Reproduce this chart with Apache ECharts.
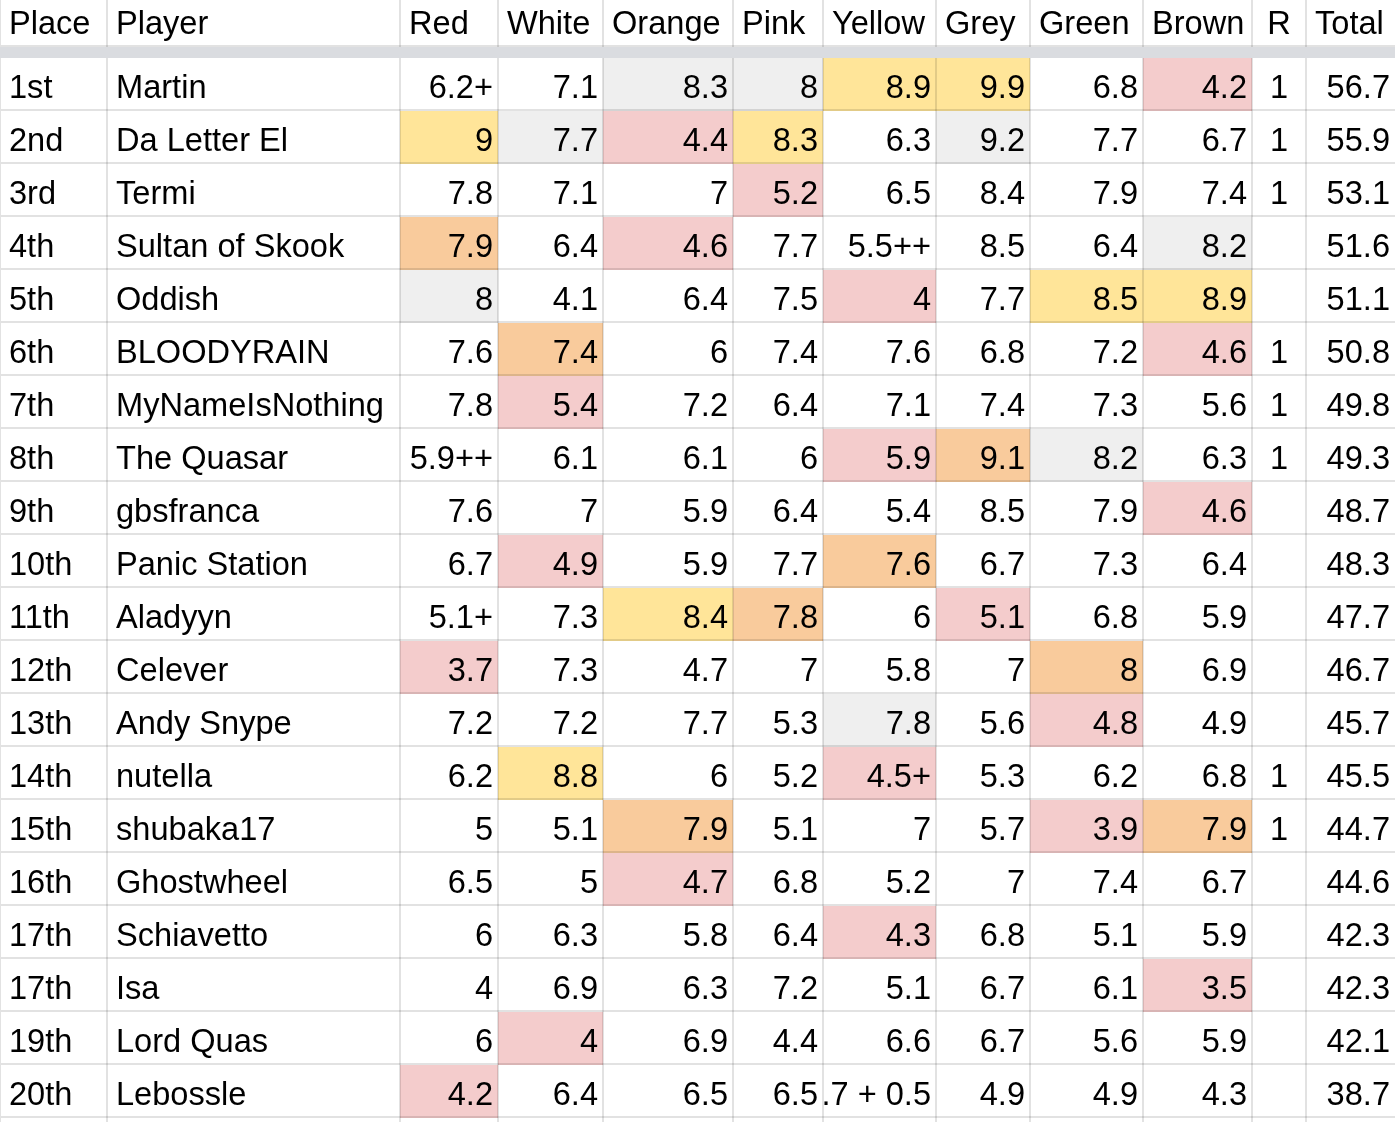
<!DOCTYPE html>
<html>
<head>
<meta charset="utf-8">
<script src="https://cdn.jsdelivr.net/npm/echarts@6/dist/echarts.min.js"></script>
<style>
html,body{margin:0;padding:0;background:#fff;}
#chart{width:1395px;height:1122px;}
</style>
</head>
<body>
<div id="chart"></div>
<script>
// ---- data ----
const headers = ['Place','Player','Red','White','Orange','Pink','Yellow','Grey','Green','Brown','R','Total'];
const places = ['1st','2nd','3rd','4th','5th','6th','7th','8th','9th','10th','11th','12th','13th','14th','15th','16th','17th','17th','19th','20th'];
const players = ['Martin','Da Letter El','Termi','Sultan of Skook','Oddish','BLOODYRAIN','MyNameIsNothing','The Quasar','gbsfranca','Panic Station','Aladyyn','Celever','Andy Snype','nutella','shubaka17','Ghostwheel','Schiavetto','Isa','Lord Quas','Lebossle'];
const red    = ['6.2+','9','7.8','7.9','8','7.6','7.8','5.9++','7.6','6.7','5.1+','3.7','7.2','6.2','5','6.5','6','4','6','4.2'];
const white  = ['7.1','7.7','7.1','6.4','4.1','7.4','5.4','6.1','7','4.9','7.3','7.3','7.2','8.8','5.1','5','6.3','6.9','4','6.4'];
const orange = ['8.3','4.4','7','4.6','6.4','6','7.2','6.1','5.9','5.9','8.4','4.7','7.7','6','7.9','4.7','5.8','6.3','6.9','6.5'];
const pink   = ['8','8.3','5.2','7.7','7.5','7.4','6.4','6','6.4','7.7','7.8','7','5.3','5.2','5.1','6.8','6.4','7.2','4.4','6.5'];
const yellow = ['8.9','6.3','6.5','5.5++','4','7.6','7.1','5.9','5.4','7.6','6','5.8','7.8','4.5+','7','5.2','4.3','5.1','6.6','5.7 + 0.5'];
const grey   = ['9.9','9.2','8.4','8.5','7.7','6.8','7.4','9.1','8.5','6.7','5.1','7','5.6','5.3','5.7','7','6.8','6.7','6.7','4.9'];
const green  = ['6.8','7.7','7.9','6.4','8.5','7.2','7.3','8.2','7.9','7.3','6.8','8','4.8','6.2','3.9','7.4','5.1','6.1','5.6','4.9'];
const brown  = ['4.2','6.7','7.4','8.2','8.9','4.6','5.6','6.3','4.6','6.4','5.9','6.9','4.9','6.8','7.9','6.7','5.9','3.5','5.9','4.3'];
const rWins  = ['1','1','1','','','1','1','1','','','','','','1','1','','','','','',''];
const total  = ['56.7','55.9','53.1','51.6','51.1','50.8','49.8','49.3','48.7','48.3','47.7','46.7','45.7','45.5','44.7','44.6','42.3','42.3','42.1','38.7'];
// cell marks for Red..Brown: Y=yellow, O=orange, P=pink, G=grey, .=none
const cellMarks = ['..GGYY.P','YGPY.G..','...P....','O.P....G','G...P.YY','.O.....P','.P......','....POG.',
  '.......P','.P..O...','..YO.P..','P.....O.','....G.P.','.Y..P...','..O...PO','..P.....','....P...',
  '.......P','.P......','P.......'];

// ---- layout / style ----
const COL_EDGES = [0,107,400,498,603,733,823,936,1030,1143,1252,1306,1395];
const ROW_PX = 53, TOP_PX = 58, HEADER_PX = 47;
const MARK_COLORS = {Y:'#ffe599', O:'#f9cb9c', P:'#f4cccc', G:'#efefef'};
const LINE = 'rgba(0,0,0,0.115)';
const FONT = '32.6px "Liberation Sans", Arial, sans-serif';
const HEADER_TOP = -TOP_PX / ROW_PX, HEADER_BOT = -(TOP_PX - HEADER_PX) / ROW_PX;

const columns = [places, players, red, white, orange, pink, yellow, grey, green, brown, rWins, total];
const NROWS = places.length;

const cells = [];
for (let r = -1; r <= NROWS; r++) for (let c = 0; c < columns.length; c++) cells.push([c, r]);

function geom(api, c, r) {
  const x0 = api.coord([COL_EDGES[c], 0])[0];
  const x1 = api.coord([COL_EDGES[c + 1], 0])[0];
  let yTop, yBot;
  if (r < 0) { yTop = api.coord([0, HEADER_TOP])[1]; yBot = api.coord([0, HEADER_BOT])[1]; }
  else { yTop = api.coord([0, r])[1]; yBot = api.coord([0, r + 1])[1]; }
  return {x0, x1, yTop, yBot};
}

function fillItem(params, api) {
  const c = api.value(0), r = api.value(1);
  const g = geom(api, c, r);
  let color = '#ffffff';
  if (r >= 0 && r < NROWS && c >= 2 && c <= 9) {
    const m = cellMarks[r][c - 2];
    if (MARK_COLORS[m]) color = MARK_COLORS[m];
  }
  const children = [{type:'rect', shape:{x:g.x0, y:g.yTop, width:g.x1 - g.x0, height:g.yBot - g.yTop}, style:{fill:color}}];
  if (r < 0) {
    const yb = api.coord([0, 0])[1];
    children.push({type:'rect', shape:{x:g.x0, y:g.yBot, width:g.x1 - g.x0, height:yb - g.yBot}, style:{fill:'#dadce0'}});
  }
  return {type:'group', children};
}

function lineItem(params, api) {
  const c = api.value(0), r = api.value(1);
  const g = geom(api, c, r);
  const st = {stroke:LINE, lineWidth:2};
  const children = [];
  const yb = g.yBot - 1;
  if (c < columns.length - 1) children.push({type:'line', shape:{x1:g.x1, y1:g.yTop, x2:g.x1, y2:yb - 1}, style:st});
  if (c === 0) children.push({type:'line', shape:{x1:g.x0, y1:g.yTop, x2:g.x0, y2:yb - 1}, style:st});
  children.push({type:'line', shape:{x1:g.x0 - 1, y1:yb, x2:g.x1 + 1, y2:yb}, style:st});
  return {type:'group', children};
}

function textItem(params, api) {
  const c = api.value(0), r = api.value(1);
  if (r >= NROWS) return null;
  const g = geom(api, c, r);
  const txt = r < 0 ? headers[c] : columns[c][r];
  if (!txt) return null;
  let align, x;
  if (c === 10) { align = 'center'; x = (g.x0 + g.x1) / 2; }
  else if (r < 0 || c < 2) { align = 'left'; x = g.x0 + 9; }
  else { align = 'right'; x = g.x1 - 5; }
  return {
    type:'group',
    clipPath:{type:'rect', shape:{x:g.x0 + 1, y:g.yTop, width:g.x1 - g.x0 - 2, height:g.yBot - g.yTop}},
    children:[{type:'text', style:{text:txt, x:x, y:g.yBot - 22, font:FONT, fill:'#000000', align:align, verticalAlign:'middle'}}]
  };
}

const chart = echarts.init(document.getElementById('chart'), null, {renderer:'canvas'});
chart.setOption({
  animation:false,
  grid:{left:0, right:0, top:TOP_PX, bottom:1122 - TOP_PX - ROW_PX * NROWS},
  xAxis:{type:'value', min:0, max:1395, show:false},
  yAxis:{type:'value', min:0, max:NROWS, inverse:true, show:false},
  series:[
    {type:'custom', data:cells, renderItem:fillItem, clip:false, silent:true},
    {type:'custom', data:cells, renderItem:lineItem, clip:false, silent:true},
    {type:'custom', data:cells, renderItem:textItem, clip:false, silent:true}
  ]
});
</script>
</body>
</html>
